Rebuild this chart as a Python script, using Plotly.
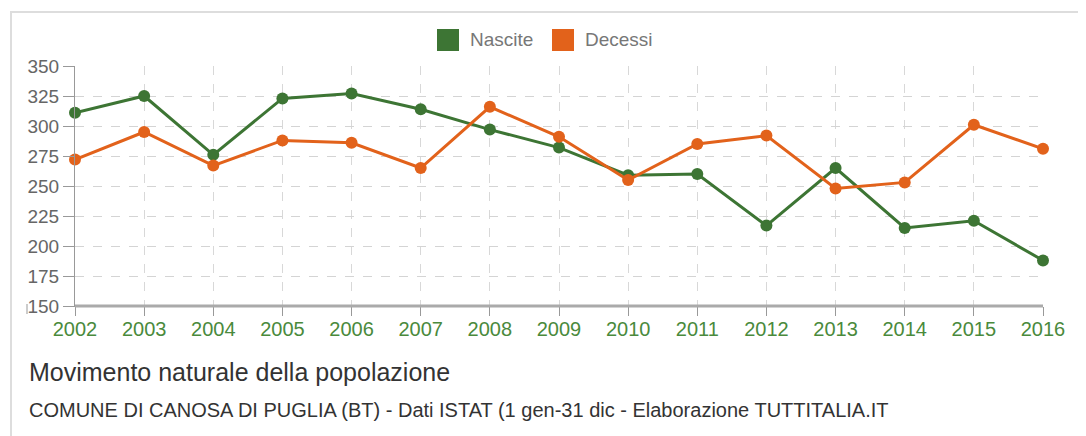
import plotly.graph_objects as go

years = [2002, 2003, 2004, 2005, 2006, 2007, 2008, 2009, 2010, 2011, 2012, 2013, 2014, 2015, 2016]
nascite = [311, 325, 276, 323, 327, 314, 297, 282, 259, 260, 217, 265, 215, 221, 188]
decessi = [272, 295, 267, 288, 286, 265, 316, 291, 255, 285, 292, 248, 253, 301, 281]
y_ticks = [150, 175, 200, 225, 250, 275, 300, 325, 350]

GREEN = "#3d7534"
ORANGE = "#e2621b"
FONT = "Liberation Sans, Arial, sans-serif"

OFF = 8  # page body margin offset
W, H = 1078, 428
# desired screen positions: plot left 75, right 1043, top 66, bottom 306
ml, mt = 75 - OFF, 66 - OFF
mr = W - (1043 - OFF)
mb = H - (306 - OFF)
pw, ph = W - ml - mr, H - mt - mb

def px(x):
    return (x - OFF - ml) / pw

def py(y):
    return (H - mb - (y - OFF)) / ph

fig = go.Figure()
series = [("Nascite", nascite, GREEN), ("Decessi", decessi, ORANGE)]
for name, vals, col in series:
    fig.add_trace(go.Scatter(
        x=years, y=vals, mode="lines+markers", name=name,
        line=dict(color=col, width=3),
        marker=dict(color=col, size=12),
        showlegend=False, cliponaxis=False,
    ))

# manual legend (square swatches + labels)
legend_shapes = []
legend_annots = []
for (name, _, col), sx in zip(series, [437, 552]):
    legend_shapes.append(dict(
        type="rect", xref="paper", yref="paper",
        x0=px(sx), x1=px(sx + 22), y0=py(51), y1=py(29),
        line=dict(width=0), fillcolor=col))
    legend_annots.append(dict(
        text=name, xref="paper", yref="paper",
        x=px(sx + 31), y=py(40), xanchor="left", yanchor="middle",
        showarrow=False, font=dict(size=19, color="#777777", family=FONT)))

fig.update_layout(
    width=W, height=H,
    margin=dict(l=ml, r=mr, t=mt, b=mb, autoexpand=False),
    paper_bgcolor="white", plot_bgcolor="white",
    font=dict(family=FONT, color="#666666"),
    showlegend=False,
    xaxis=dict(
        range=[2002, 2016], tickmode="array", tickvals=years,
        ticktext=[str(y) for y in years],
        tickfont=dict(size=20, color="#4a8a3c"),
        showgrid=True, gridcolor="#d8d8d8", griddash="dash", gridwidth=1,
        showline=True, linecolor="#999999", linewidth=1,
        ticks="outside", ticklen=9, tickcolor="#999999",
        ticklabelstandoff=-4,
        zeroline=False, fixedrange=True, automargin=False,
    ),
    yaxis=dict(
        range=[150, 350], tickmode="array", tickvals=y_ticks,
        tickfont=dict(size=19, color="#666666"),
        showgrid=True, gridcolor="#d4d4d4", griddash="dash", gridwidth=1,
        showline=True, linecolor="#999999", linewidth=1,
        ticks="outside", ticklen=11, tickcolor="#999999",
        zeroline=False, fixedrange=True, automargin=False,
    ),
    shapes=[
        dict(type="rect", xref="paper", yref="paper",
             x0=px(11), x1=px(1095), y0=py(12), y1=py(440),
             line=dict(color="#dddddd", width=2), fillcolor="rgba(0,0,0,0)", layer="below"),
        dict(type="line", xref="paper", yref="paper",
             x0=0, x1=1, y0=0, y1=0,
             line=dict(color="#aaaaaa", width=3)),
        dict(type="line", xref="paper", yref="paper",
             x0=px(27), x1=px(27), y0=py(304), y1=py(314),
             line=dict(color="#999999", width=1)),
    ] + legend_shapes,
    annotations=[
        dict(text="Movimento naturale della popolazione", xref="paper", yref="paper",
             x=px(27), y=py(372), xanchor="left", yanchor="middle", showarrow=False,
             font=dict(size=25, color="#333333", family=FONT)),
        dict(text="COMUNE DI CANOSA DI PUGLIA (BT) - Dati ISTAT (1 gen-31 dic - Elaborazione TUTTITALIA.IT",
             xref="paper", yref="paper",
             x=px(27), y=py(410), xanchor="left", yanchor="middle", showarrow=False,
             font=dict(size=20, color="#333333", family=FONT)),
    ] + legend_annots,
)

fig.write_html("out.html")
